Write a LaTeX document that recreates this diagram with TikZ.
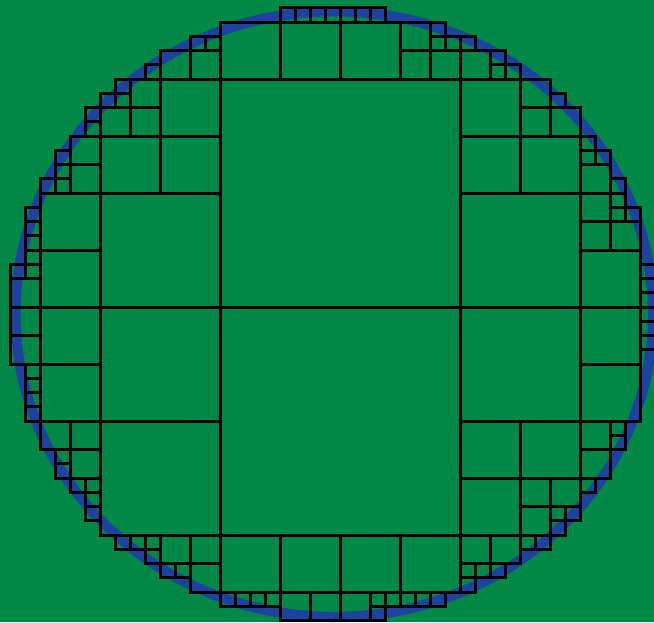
\documentclass[tikz,border=0pt]{standalone}
\definecolor{fieldgreen}{RGB}{0,136,71}
\definecolor{ringblue}{RGB}{30,66,160}

\begin{document}
\begin{tikzpicture}[x=7.5pt, y=7.125pt, cell/.style={draw=black, line width=1.5pt}]
    % Parameter fuer Kreis (Mittelpunkt und Radius in Zellen)
    \def\cx{-0.45}
    \def\cy{-0.5}
    \def\r{21.25}

    % Hintergrund
    \fill[fieldgreen] (-22.733,-22.105) rectangle (20.867,21.544);
    \useasboundingbox (-22.733,-22.105) rectangle (20.867,21.544);

    % Blauer Ring
    \draw[ringblue, line width=5.1pt] (\cx,\cy) ellipse [x radius=\r, y radius=\r];

    % ==========================================
    % ZELLEN: x/y = linke untere Ecke, s = Kantenlaenge
    % ==========================================
    % Mitte
    \foreach \x/\y/\s in {-8/0/16, -8/-16/16}
        \draw[cell] (\x,\y) rectangle ++(\s,\s);

    % Oben
    \foreach \x/\y/\s in {-4/20/1, -3/20/1, -2/20/1, -1/20/1, 0/20/1, 1/20/1, 2/20/1,
        -8/16/4, -4/16/4, 0/16/4,
        4/18/2, 4/16/2, 6/16/2, 6/19/1, 6/18/1, 7/18/1,
        8/16/2, 8/18/1, 10/17/1, 10/16/1, 11/16/1,
        -10/18/1, -9/18/1, -10/16/2, -12/16/2, -13/16/1}
        \draw[cell] (\x,\y) rectangle ++(\s,\s);

    % Oben links
    \foreach \x/\y/\s in {-12/12/4, -12/8/4, -16/8/4,
        -14/14/2, -14/12/2, -16/12/2, -16/14/1, -15/14/1, -15/15/1,
        -17/13/1, -17/12/1,
        -18/10/2, -18/8/2, -19/10/1, -19/9/1, -20/8/1, -19/8/1}
        \draw[cell] (\x,\y) rectangle ++(\s,\s);

    % Links
    \foreach \x/\y/\s in {-16/0/8, -20/4/4, -20/0/4,
        -21/6/1, -21/5/1, -21/4/1, -21/3/1, -21/2/1, -22/2/1, -22/0/2,
        -22/-2/2, -22/-4/2, -20/-4/4, -20/-8/4,
        -21/-5/1, -21/-6/1, -21/-7/1, -21/-8/1}
        \draw[cell] (\x,\y) rectangle ++(\s,\s);

    % Unten links
    \foreach \x/\y/\s in {-16/-8/8, -16/-16/8,
        -18/-10/2, -20/-10/2, -19/-11/1, -19/-12/1, -18/-12/2,
        -18/-13/1, -17/-13/1, -17/-14/1, -17/-15/1,
        -15/-17/1, -14/-17/1, -13/-17/1, -13/-18/1,
        -12/-18/2, -12/-19/1, -11/-19/1, -10/-18/2, -10/-20/2,
        -8/-20/4, -8/-21/1, -7/-21/1, -6/-21/1, -5/-21/1,
        -4/-20/4, -4/-22/2, -2/-22/2}
        \draw[cell] (\x,\y) rectangle ++(\s,\s);

    % Rechts oben
    \foreach \x/\y/\s in {8/12/4, 8/8/4, 12/8/4, 8/0/8,
        12/14/2, 12/12/2, 14/12/2, 14/14/1,
        16/11/1, 16/10/1, 17/10/1, 16/8/2,
        18/8/1, 18/7/1, 18/6/1, 19/6/1, 16/6/2, 16/4/2, 18/4/2,
        16/0/4, 20/2/1, 20/1/1, 20/0/1}
        \draw[cell] (\x,\y) rectangle ++(\s,\s);

    % Rechts unten
    \foreach \x/\y/\s in {20/-1/1, 20/-2/1, 20/-3/1, 16/-4/4, 16/-8/4,
        8/-8/8, 8/-12/4, 12/-12/4,
        16/-10/2, 18/-9/1, 18/-10/1, 16/-12/2, 16/-13/1,
        8/-16/4, 12/-14/2, 14/-14/2, 12/-16/2, 14/-15/1, 15/-15/1, 14/-16/1,
        8/-18/2, 10/-18/2, 8/-19/1, 9/-19/1, 10/-19/1, 8/-20/1, 12/-17/1, 13/-17/1,
        0/-20/4, 4/-20/4, 0/-22/2, 2/-21/1, 2/-22/1, 3/-21/1, 4/-21/1, 5/-21/1, 6/-21/1}
        \draw[cell] (\x,\y) rectangle ++(\s,\s);
\end{tikzpicture}
\end{document}
